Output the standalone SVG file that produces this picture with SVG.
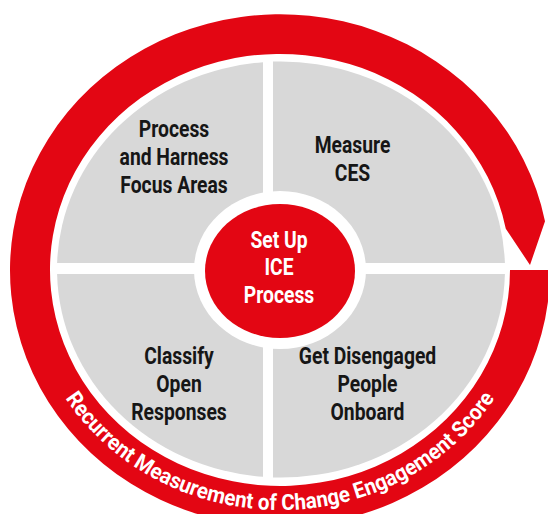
<svg xmlns="http://www.w3.org/2000/svg" width="548" height="514" viewBox="0 0 548 514">
<style>
.q{fill:#d8d8d8}
.red{fill:#e30613}
.lbl{font-family:Roboto,"Liberation Sans",sans-serif;font-weight:bold;font-size:23px;fill:#161616;text-anchor:middle}
.wlbl{font-family:Roboto,"Liberation Sans",sans-serif;font-weight:bold;font-size:23px;fill:#ffffff;text-anchor:middle}
.ring{font-family:Roboto,"Liberation Sans",sans-serif;font-weight:bold;font-size:22px;fill:#ffffff}
</style>
<defs>
<path id="ringText" d="M 26 270 A 254 240 0 0 0 534 270"/>
</defs>
<rect width="548" height="514" fill="#ffffff"/>
<g id="connectors">
<path class="red" d="M 550 270 A 270 256 0 1 1 545 221.2 L 530 265 L 505.8 228.8 A 230 216 0 1 0 510 270 Z"/>
<text class="ring" textLength="504" lengthAdjust="spacingAndGlyphs"><textPath href="#ringText" startOffset="50%" text-anchor="middle">Recurrent Measurement of Change Engagement Score</textPath></text>
</g>
<g id="node-process-harness">
<path class="q" d="M263 263 L263 62.2 A224 208 0 0 0 57.1 263 Z"/>
<g transform="translate(174,0) scale(0.84,1)">
<text class="lbl" x="0" y="137">Process</text>
<text class="lbl" x="0" y="165">and Harness</text>
<text class="lbl" x="0" y="193">Focus Areas</text>
</g>
</g>
<g id="node-measure-ces">
<path class="q" d="M273 263 L273 61.6 A224 208 0 0 1 504.9 263 Z"/>
<g transform="translate(352.5,0) scale(0.84,1)">
<text class="lbl" x="0" y="153">Measure</text>
<text class="lbl" x="0" y="181">CES</text>
</g>
</g>
<g id="node-classify">
<path class="q" d="M263 274 L263 476.8 A224 208 0 0 1 57.1 274 Z"/>
<g transform="translate(179,0) scale(0.84,1)">
<text class="lbl" x="0" y="364">Classify</text>
<text class="lbl" x="0" y="392">Open</text>
<text class="lbl" x="0" y="420">Responses</text>
</g>
</g>
<g id="node-disengaged">
<path class="q" d="M273 274 L504.9 274 A224 208 0 0 1 273 477.4 Z"/>
<g transform="translate(367.5,0) scale(0.84,1)">
<text class="lbl" x="0" y="364">Get Disengaged</text>
<text class="lbl" x="0" y="392">People</text>
<text class="lbl" x="0" y="420">Onboard</text>
</g>
</g>
<g id="node-setup-ice">
<ellipse cx="280" cy="270" rx="86" ry="79" fill="#ffffff"/>
<ellipse class="red" cx="280" cy="271" rx="75" ry="67"/>
<g transform="translate(279,0) scale(0.84,1)">
<text class="wlbl" x="0" y="248">Set Up</text>
<text class="wlbl" x="0" y="275">ICE</text>
<text class="wlbl" x="0" y="303">Process</text>
</g>
</g>
</svg>
